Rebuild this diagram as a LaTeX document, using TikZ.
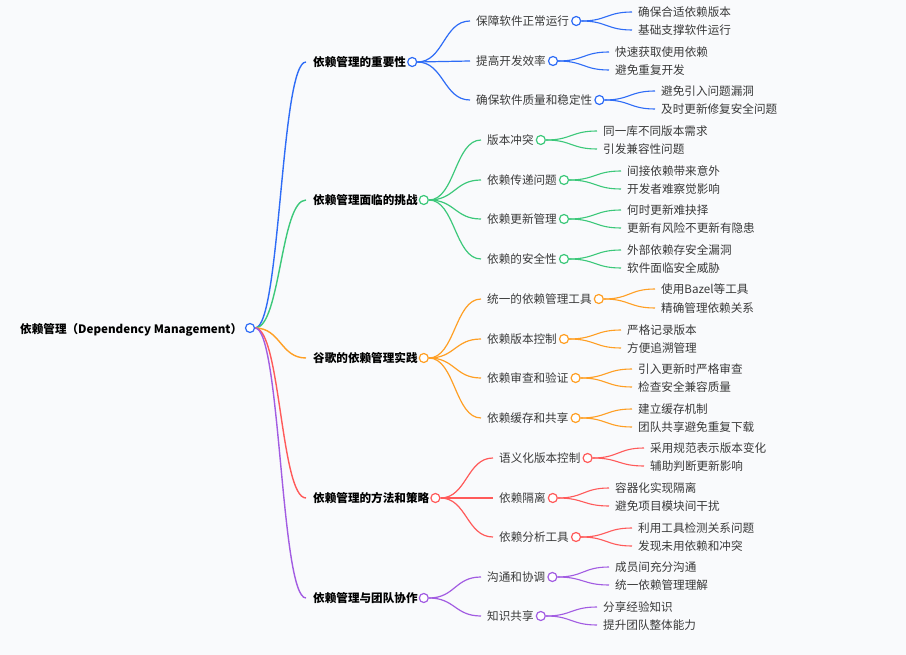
\documentclass[tikz,border=0pt]{standalone}
\usepackage{fontspec}
\setmainfont{Noto Sans CJK SC}
\usetikzlibrary{calc}
\pgfdeclarelayer{bgl}
\pgfdeclarelayer{edges}
\pgfsetlayers{bgl,edges,main}
\definecolor{bg}{HTML}{F9FAFC}
\definecolor{txtgray}{HTML}{3A3A3A}
\definecolor{cb}{HTML}{2E6CF6}
\definecolor{cg}{HTML}{3CC87A}
\definecolor{co}{HTML}{FF9F24}
\definecolor{cr}{HTML}{FF5A5A}
\definecolor{cp}{HTML}{A25CE2}
\tikzset{
  txt/.style={anchor=west, inner sep=0pt, yshift=-1pt, font=\fontsize{11.6}{13}\selectfont, text=txtgray},
  lone/.style={anchor=west, inner sep=0pt, yshift=-1pt, font=\fontsize{11.6}{13}\selectfont\bfseries, text=black},
  dot/.style={circle, draw, fill=white, minimum size=9pt, inner sep=0pt, line width=1.2pt},
  edge/.style={to path={let \p1=(\tikztostart), \p2=(\tikztotarget), \n1={0.5*(\x1+\x2)} in .. controls (\n1,\y1) and (\n1,\y2) .. (\tikztotarget)}},
  wone/.style={line width=1.4pt},
  wtwo/.style={line width=1.2pt},
  wthree/.style={line width=1.1pt}
}
\begin{document}
\begin{tikzpicture}[x=1pt,y=-1pt]
\begin{pgfonlayer}{bgl}
\fill[bg] (0,0) rectangle (906,655);
\end{pgfonlayer}
\useasboundingbox (0,0) rectangle (906,655);
% root
\node[lone] (root) at (20,329) {依赖管理（Dependency Management）};
\node[dot, draw=cb] (c0) at (250,328) {};
% level 1
\node[lone] (b1) at (313,61) {依赖管理的重要性};
\node[lone] (g1) at (313,199) {依赖管理面临的挑战};
\node[lone] (o1) at (313,357) {谷歌的依赖管理实践};
\node[lone] (r1) at (313,497) {依赖管理的方法和策略};
\node[lone] (p1) at (313,597) {依赖管理与团队协作};
\node[dot, draw=cb] (cb1) at ([xshift=6pt]b1.east) {};
\node[dot, draw=cg] (cg1) at ([xshift=6pt]g1.east) {};
\node[dot, draw=co] (co1) at ([xshift=6pt]o1.east) {};
\node[dot, draw=cr] (cr1) at ([xshift=6pt]r1.east) {};
\node[dot, draw=cp] (cp1) at ([xshift=6pt]p1.east) {};
% blue
\node[txt] (b11) at (476,20) {保障软件正常运行};
\node[txt] (b12) at (476,60) {提高开发效率};
\node[txt] (b13) at (476,99) {确保软件质量和稳定性};
\node[dot, draw=cb] (cb11) at ([xshift=7pt]b11.east) {};
\node[dot, draw=cb] (cb12) at ([xshift=7pt]b12.east) {};
\node[dot, draw=cb] (cb13) at ([xshift=7pt]b13.east) {};
\node[txt] (b111) at (638,11) {确保合适依赖版本};
\node[txt] (b112) at (638,29) {基础支撑软件运行};
\node[txt] (b121) at (615,51) {快速获取使用依赖};
\node[txt] (b122) at (615,69) {避免重复开发};
\node[txt] (b131) at (661,90) {避免引入问题漏洞};
\node[txt] (b132) at (661,108) {及时更新修复安全问题};
% green
\node[txt] (g11) at (487,139) {版本冲突};
\node[txt] (g12) at (487,179) {依赖传递问题};
\node[txt] (g13) at (487,218) {依赖更新管理};
\node[txt] (g14) at (487,258) {依赖的安全性};
\node[dot, draw=cg] (cg11) at ([xshift=7pt]g11.east) {};
\node[dot, draw=cg] (cg12) at ([xshift=7pt]g12.east) {};
\node[dot, draw=cg] (cg13) at ([xshift=7pt]g13.east) {};
\node[dot, draw=cg] (cg14) at ([xshift=7pt]g14.east) {};
\node[txt] (g111) at (603,130) {同一库不同版本需求};
\node[txt] (g112) at (603,148) {引发兼容性问题};
\node[txt] (g121) at (627,170) {间接依赖带来意外};
\node[txt] (g122) at (627,188) {开发者难察觉影响};
\node[txt] (g131) at (627,209) {何时更新难抉择};
\node[txt] (g132) at (627,227) {更新有风险不更新有隐患};
\node[txt] (g141) at (627,249) {外部依赖存安全漏洞};
\node[txt] (g142) at (627,267) {软件面临安全威胁};
% orange
\node[txt] (o11) at (487,298) {统一的依赖管理工具};
\node[txt] (o12) at (487,338) {依赖版本控制};
\node[txt] (o13) at (487,377) {依赖审查和验证};
\node[txt] (o14) at (487,417) {依赖缓存和共享};
\node[dot, draw=co] (co11) at ([xshift=7pt]o11.east) {};
\node[dot, draw=co] (co12) at ([xshift=7pt]o12.east) {};
\node[dot, draw=co] (co13) at ([xshift=7pt]o13.east) {};
\node[dot, draw=co] (co14) at ([xshift=7pt]o14.east) {};
\node[txt] (o111) at (661,288) {使用Bazel等工具};
\node[txt] (o112) at (661,307) {精确管理依赖关系};
\node[txt] (o121) at (627,329) {严格记录版本};
\node[txt] (o122) at (627,347) {方便追溯管理};
\node[txt] (o131) at (638,368) {引入更新时严格审查};
\node[txt] (o132) at (638,386) {检查安全兼容质量};
\node[txt] (o141) at (638,408) {建立缓存机制};
\node[txt] (o142) at (638,426) {团队共享避免重复下载};
% red
\node[txt] (r11) at (499,457) {语义化版本控制};
\node[txt] (r12) at (499,497) {依赖隔离};
\node[txt] (r13) at (499,536) {依赖分析工具};
\node[dot, draw=cr] (cr11) at ([xshift=7pt]r11.east) {};
\node[dot, draw=cr] (cr12) at ([xshift=7pt]r12.east) {};
\node[dot, draw=cr] (cr13) at ([xshift=7pt]r13.east) {};
\node[txt] (r111) at (650,447) {采用规范表示版本变化};
\node[txt] (r112) at (650,465) {辅助判断更新影响};
\node[txt] (r121) at (615,487) {容器化实现隔离};
\node[txt] (r122) at (615,505) {避免项目模块间干扰};
\node[txt] (r131) at (638,527) {利用工具检测关系问题};
\node[txt] (r132) at (638,545) {发现未用依赖和冲突};
% purple
\node[txt] (p11) at (487,576) {沟通和协调};
\node[txt] (p12) at (487,615) {知识共享};
\node[dot, draw=cp] (cp11) at ([xshift=7pt]p11.east) {};
\node[dot, draw=cp] (cp12) at ([xshift=7pt]p12.east) {};
\node[txt] (p111) at (615,566) {成员间充分沟通};
\node[txt] (p112) at (615,584) {统一依赖管理理解};
\node[txt] (p121) at (603,606) {分享经验知识};
\node[txt] (p122) at (603,624) {提升团队整体能力};
% edges
\begin{pgfonlayer}{edges}
\draw[cb, wone] (c0.east) to[edge] ([xshift=-7pt]b1.west);
\draw[cg, wone] (c0.east) to[edge] ([xshift=-7pt]g1.west);
\draw[co, wone] (c0.east) to[edge] ([xshift=-7pt]o1.west);
\draw[cr, wone] (c0.east) to[edge] ([xshift=-7pt]r1.west);
\draw[cp, wone] (c0.east) to[edge] ([xshift=-7pt]p1.west);
\foreach \c in {b11,b12,b13} \draw[cb, wtwo] (cb1.east) to[edge] ([xshift=-6pt]\c.west);
\foreach \c in {g11,g12,g13,g14} \draw[cg, wtwo] (cg1.east) to[edge] ([xshift=-6pt]\c.west);
\foreach \c in {o11,o12,o13,o14} \draw[co, wtwo] (co1.east) to[edge] ([xshift=-6pt]\c.west);
\foreach \c in {r11,r12,r13} \draw[cr, wtwo] (cr1.east) to[edge] ([xshift=-6pt]\c.west);
\foreach \c in {p11,p12} \draw[cp, wtwo] (cp1.east) to[edge] ([xshift=-6pt]\c.west);
\foreach \p/\c in {cb11/b111,cb11/b112,cb12/b121,cb12/b122,cb13/b131,cb13/b132} \draw[cb, wthree] (\p.east) to[edge] ([xshift=-6pt]\c.west);
\foreach \p/\c in {cg11/g111,cg11/g112,cg12/g121,cg12/g122,cg13/g131,cg13/g132,cg14/g141,cg14/g142} \draw[cg, wthree] (\p.east) to[edge] ([xshift=-6pt]\c.west);
\foreach \p/\c in {co11/o111,co11/o112,co12/o121,co12/o122,co13/o131,co13/o132,co14/o141,co14/o142} \draw[co, wthree] (\p.east) to[edge] ([xshift=-6pt]\c.west);
\foreach \p/\c in {cr11/r111,cr11/r112,cr12/r121,cr12/r122,cr13/r131,cr13/r132} \draw[cr, wthree] (\p.east) to[edge] ([xshift=-6pt]\c.west);
\foreach \p/\c in {cp11/p111,cp11/p112,cp12/p121,cp12/p122} \draw[cp, wthree] (\p.east) to[edge] ([xshift=-6pt]\c.west);
\end{pgfonlayer}
\end{tikzpicture}
\end{document}
